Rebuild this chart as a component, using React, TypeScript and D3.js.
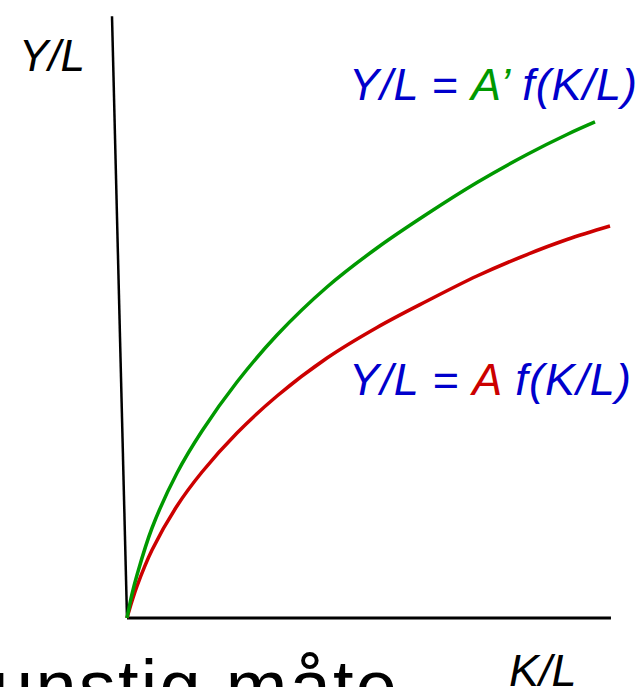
import React from "react";
import * as d3 from "d3";

const greenKL = [0, 1.04, 2.07, 5.18, 10.35, 15.53, 22.77, 31.06, 41.41, 51.76, 62.11, 72.46, 82.82, 91.1, 96.89];
const greenYL = [0, 4, 7.17, 15, 24.17, 31.17, 39.33, 47.17, 55.17, 61.67, 67.33, 72.58, 77.25, 80.58, 82.67];
const redKL = [0, 1.04, 2.07, 5.18, 10.35, 15.53, 22.77, 31.06, 41.41, 51.76, 62.11, 72.46, 82.82, 91.1, 100];
const redYL = [0, 2.83, 5.33, 11.33, 18.67, 24.33, 30.83, 37, 43.33, 48.42, 52.83, 57, 60.58, 63.08, 65.33];

const W = 643;
const H = 687;

export default function App() {
  const x = d3.scaleLinear().domain([0, 100]).range([127, 610]);
  const y = d3.scaleLinear().domain([0, 100]).range([618, 18]);
  const line = d3
    .line<[number, number]>()
    .x((d) => x(d[0]))
    .y((d) => y(d[1]))
    .curve(d3.curveCatmullRom.alpha(0.5));
  const g: [number, number][] = greenKL.map((v, i) => [v, greenYL[i]]);
  const r: [number, number][] = redKL.map((v, i) => [v, redYL[i]]);
  const font = "'Liberation Sans', Arial, sans-serif";
  const blue = "#0000CC";
  return (
    <svg
      width={W}
      height={H}
      style={{ position: "fixed", left: 0, top: 0, background: "#fff" }}
    >
      <line x1={x(0) - 15} y1={y(100.3)} x2={x(0)} y2={y(0)} stroke="#000" strokeWidth={2.5} />
      <line x1={x(0)} y1={y(0)} x2={x(100.2)} y2={y(0)} stroke="#000" strokeWidth={3} />
      <path d={line(r) || ""} fill="none" stroke="#CC0000" strokeWidth={3.5} />
      <path d={line(g) || ""} fill="none" stroke="#009900" strokeWidth={3.5} />
      <text x={19} y={71} fontFamily={font} fontStyle="italic" fontSize={44} fill="#000">
        Y/L
      </text>
      <text x={349} y={100} fontFamily={font} fontStyle="italic" fontSize={45} fill={blue} textLength={288}>
        Y/L <tspan fontStyle="normal">=</tspan> <tspan fill="#009900">A’</tspan> f(K/L)
      </text>
      <text x={349} y={395} fontFamily={font} fontStyle="italic" fontSize={45} fill={blue} textLength={282}>
        Y/L <tspan fontStyle="normal">=</tspan> <tspan fill="#CC0000">A</tspan> f(K/L)
      </text>
      <text x={509} y={686} fontFamily={font} fontStyle="italic" fontSize={45} fill="#000">
        K/L
      </text>
      <text x={-8} y={712} fontFamily={font} fontSize={74} fill="#000" textLength={405}>
        unstig måte
      </text>
    </svg>
  );
}
